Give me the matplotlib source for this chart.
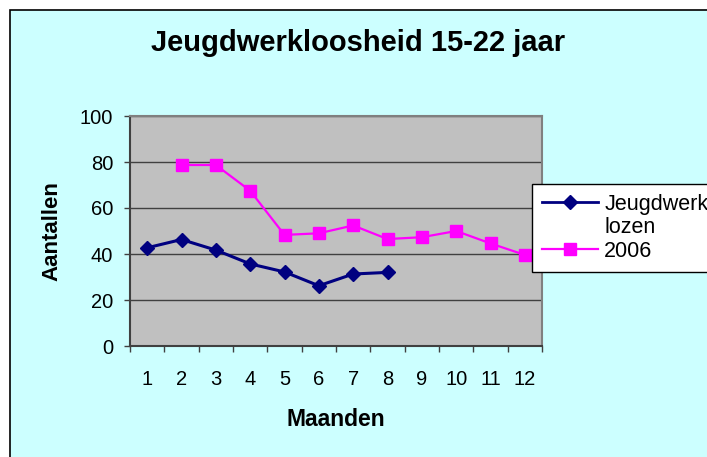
import matplotlib
matplotlib.use('Agg')
import matplotlib.pyplot as plt
from matplotlib.lines import Line2D
from matplotlib.patches import Rectangle

# data
months = [1, 2, 3, 4, 5, 6, 7, 8, 9, 10, 11, 12]
months_jeugd = [1, 2, 3, 4, 5, 6, 7, 8]
jeugdwerklozen = [42.7, 46.3, 41.7, 35.7, 32.2, 26.2, 31.3, 32.0]
months_2006 = [2, 3, 4, 5, 6, 7, 8, 9, 10, 11, 12]
werkloos_2006 = [78.7, 78.7, 67.5, 48.3, 49.0, 52.4, 46.5, 47.3, 50.0, 44.6, 39.6]
yticks = [0, 20, 40, 60, 80, 100]

plt.rcParams['font.family'] = ['Liberation Sans', 'DejaVu Sans']

W, H = 707, 457
fig = plt.figure(figsize=(W / 100, H / 100), dpi=100)
fig.patch.set_facecolor('white')

# chart area background, only left and top border visible
fig.patches.append(Rectangle((10 / W, -0.2), 1.2, 1.2 - 10 / H,
                             transform=fig.transFigure, facecolor='#CCFFFF',
                             edgecolor='black', linewidth=1.2, zorder=-5))

ax = fig.add_axes([130 / W, 1 - 346 / H, 412 / W, 230 / H])
ax.set_facecolor('#C0C0C0')

ax.plot(months_jeugd, jeugdwerklozen, color='#000080', linewidth=2.2,
        marker='D', markersize=6.8, zorder=3)
ax.plot(months_2006, werkloos_2006, color='#FF00FF', linewidth=1.6,
        marker='s', markersize=8.6, zorder=3, clip_on=False)

ax.set_xlim(0.5, 12.5)
ax.set_ylim(0, 100)
ax.set_yticks(yticks)
ax.set_xticks(months)
ax.set_xticks([m - 0.5 for m in months] + [12.5], minor=True)
ax.grid(axis='y', color='#404040', linewidth=1)
ax.set_axisbelow(True)

ax.tick_params(axis='x', which='major', length=0, pad=17, labelsize=14.5)
ax.tick_params(axis='x', which='minor', length=4, width=1, color='#404040',
               direction='out')
ax.tick_params(axis='y', length=4, width=1, color='#404040', pad=8,
               labelsize=14.5)

for side in ['top', 'right']:
    ax.spines[side].set_color('#808080')
    ax.spines[side].set_linewidth(1.5)
for side in ['left', 'bottom']:
    ax.spines[side].set_color('#404040')
    ax.spines[side].set_linewidth(1.5)

fig.text(358 / W, 1 - 43 / H, 'Jeugdwerkloosheid 15-22 jaar', ha='center',
         va='center', fontsize=21, fontweight='bold')
fig.text(336 / W, 1 - 420 / H, 'Maanden', ha='center', va='center',
         fontsize=16.5, fontweight='bold')
fig.text(52 / W, 1 - 231 / H, 'Aantallen', ha='center', va='center',
         rotation=90, fontsize=16, fontweight='bold')

handles = [
    Line2D([], [], color='#000080', linewidth=2, marker='D', markersize=6.8),
    Line2D([], [], color='none'),
    Line2D([], [], color='#FF00FF', linewidth=1.6, marker='s', markersize=8.6),
]
leg = fig.legend(handles, ['Jeugdwerk', 'lozen', '2006'],
                 loc='upper left', bbox_to_anchor=(532 / W, 1 - 184 / H),
                 fontsize=15.5, frameon=True, fancybox=False, framealpha=1,
                 edgecolor='black', handlelength=2.6, handletextpad=0.3,
                 labelspacing=0.12, borderpad=0.45, borderaxespad=0)
leg.get_frame().set_linewidth(1)

fig.savefig('out.png', dpi=100)
